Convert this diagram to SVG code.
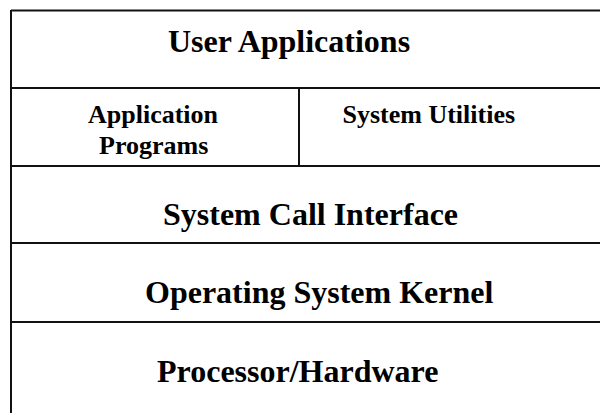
<svg xmlns="http://www.w3.org/2000/svg" width="600" height="413" viewBox="0 0 600 413">
<style>
.ln{stroke:#111;stroke-width:2;fill:none}
.big{font-family:"Liberation Serif","Times New Roman",serif;font-weight:bold;font-size:32px;fill:#000}
.mid{font-family:"Liberation Serif","Times New Roman",serif;font-weight:bold;font-size:26px;fill:#000}
</style>
<rect width="600" height="413" fill="#fff"/>
<g id="connectors">
<line class="ln" x1="11" y1="10.5" x2="600" y2="10.5"/>
<line class="ln" x1="11" y1="10" x2="11" y2="413"/>
</g>
<g id="user-applications">
<line class="ln" x1="11" y1="88" x2="600" y2="88"/>
<text class="big" x="168" y="52">User Applications</text>
</g>
<g id="application-programs">
<line class="ln" x1="299" y1="88" x2="299" y2="166"/>
<text class="mid" x="88" y="123">Application</text>
<text class="mid" x="99" y="153.5">Programs</text>
</g>
<g id="system-utilities">
<text class="mid" x="342.5" y="123">System Utilities</text>
</g>
<g id="system-call-interface">
<line class="ln" x1="11" y1="166" x2="600" y2="166"/>
<text class="big" x="163" y="224.5">System Call Interface</text>
</g>
<g id="kernel">
<line class="ln" x1="11" y1="243" x2="600" y2="243"/>
<text class="big" x="145" y="302.5">Operating System Kernel</text>
</g>
<g id="hardware">
<line class="ln" x1="11" y1="322" x2="600" y2="322"/>
<text class="big" x="157" y="382">Processor/Hardware</text>
</g>
</svg>
